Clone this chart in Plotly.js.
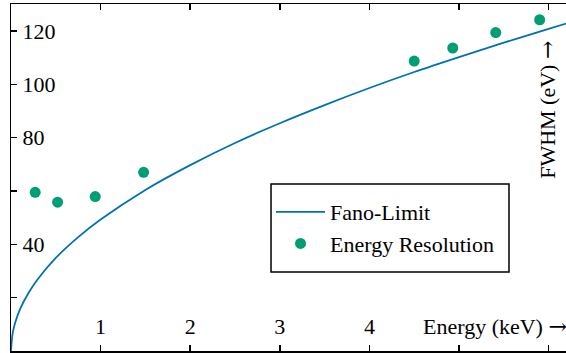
<!DOCTYPE html>
<html>
<head>
<meta charset="utf-8">
<script src="https://cdn.plot.ly/plotly-3.0.1.min.js"></script>
<style>html,body{margin:0;padding:0;background:#fff;}#chart{width:566px;height:353px;}</style>
</head>
<body>
<div id="chart"></div>
<script>
// Fano-limit curve
var fanoEnergy = [0, 0.02, 0.05, 0.1, 0.2, 0.3, 0.5, 0.75, 1.0, 1.5, 2.0, 2.5, 3.0, 3.5, 4.0, 4.5, 5.0, 5.5, 6.0, 6.2];
var fanoFWHM   = [0, 7.0, 11.0, 15.6, 22.0, 27.0, 34.9, 42.7, 49.3, 60.4, 69.7, 78.0, 85.4, 92.2, 98.6, 104.6, 110.2, 115.6, 120.8, 122.8];
// measured energy resolution points
var resEnergy = [0.27, 0.52, 0.94, 1.48, 4.50, 4.93, 5.41, 5.90];
var resFWHM   = [59.5, 55.8, 57.9, 67.0, 108.7, 113.6, 119.4, 124.2];
// ticks
var xTickVals = [1, 2, 3, 4, 5, 6];
var xTickText = ['1', '2', '3', '4', '', ''];
var yTickVals = [20, 40, 60, 80, 100, 120];
var yTickText = ['', '40', '', '80', '100', '120'];

var FONT = '"Liberation Serif", serif';
var ARROW = '<span style="font-family:\'DejaVu Serif\'">→</span>';
var traces = [
  {x: fanoEnergy, y: fanoFWHM, mode: 'lines', name: 'Fano-Limit',
   line: {color: '#0072B2', width: 1.8, shape: 'spline'}},
  {x: resEnergy, y: resFWHM, mode: 'markers', name: 'Energy Resolution',
   marker: {color: '#009E73', size: 11}}
];
var layout = {
  width: 566, height: 353,
  margin: {l: 11, r: 0, t: 4, b: 2},
  paper_bgcolor: '#fff', plot_bgcolor: '#fff',
  font: {family: FONT, size: 22, color: '#000'},
  showlegend: true,
  legend: {x: 0.4685, y: 0.461, xanchor: 'left', yanchor: 'top',
           borderwidth: 0, bgcolor: 'rgba(0,0,0,0)', itemwidth: 49,
           font: {family: FONT, size: 22, color: '#000'}},
  shapes: [
    {type: 'rect', xref: 'paper', yref: 'paper', x0: 0.4685, x1: 0.8973, y0: 0.2277, y1: 0.4813,
     line: {color: '#000', width: 1.5}, fillcolor: '#fff', layer: 'above'}
  ],
  xaxis: {range: [0, 6.194], tickvals: xTickVals, ticktext: xTickText,
          ticks: 'inside', ticklen: 6, tickwidth: 1.5, tickcolor: '#000',
          tickfont: {family: FONT, size: 22, color: '#000'},
          ticklabelposition: 'inside', ticklabelstandoff: 8,
          showline: true, linewidth: 1.5, linecolor: '#000',
          mirror: 'ticks', showgrid: false, zeroline: false},
  yaxis: {range: [0, 130.1], tickvals: yTickVals, ticktext: yTickText,
          ticks: 'inside', ticklen: 6, tickwidth: 1.5, tickcolor: '#000',
          tickfont: {family: FONT, size: 22, color: '#000'},
          ticklabelposition: 'inside', ticklabelstandoff: 7,
          showline: true, linewidth: 1.5, linecolor: '#000',
          mirror: false, showgrid: false, zeroline: false},
  annotations: [
    {text: 'Energy (keV) ' + ARROW, xref: 'paper', yref: 'paper', x: 1.006, y: 0.072,
     xanchor: 'right', yanchor: 'middle', showarrow: false, font: {family: FONT, size: 22, color: '#000'}},
    {text: 'FWHM (eV) ' + ARROW, xref: 'paper', yref: 'paper', x: 0.9676, y: 0.695,
     xanchor: 'center', yanchor: 'middle', textangle: -90, showarrow: false, font: {family: FONT, size: 22, color: '#000'}}
  ]
};
Plotly.newPlot('chart', traces, layout, {displayModeBar: false, staticPlot: true});
</script>
</body>
</html>
